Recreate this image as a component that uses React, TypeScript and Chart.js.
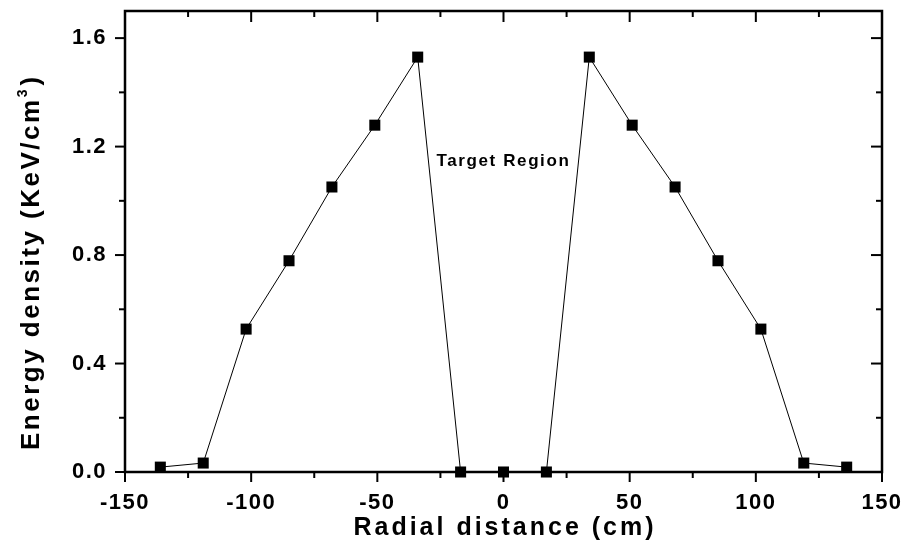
import React, { useEffect, useRef } from 'react';
import { Chart, registerables } from 'chart.js';

Chart.register(...registerables);

// ---- data ----
const radialDistance = [-136, -119, -102, -85, -68, -51, -34, -17, 0, 17, 34, 51, 68, 85, 102, 119, 136];
const energyDensity = [0.018, 0.033, 0.527, 0.779, 1.051, 1.279, 1.53, 0, 0, 0, 1.53, 1.279, 1.051, 0.779, 0.527, 0.033, 0.018];

const xMajorTicks = [-150, -100, -50, 0, 50, 100, 150];
const xMinorTicks = [-125, -75, -25, 25, 75, 125];
const yMajorTicks = [0, 0.4, 0.8, 1.2, 1.6];
const yMinorTicks = [0.2, 0.6, 1.0, 1.4];

const xAxisTitle = 'Radial distance (cm)';
const yAxisTitleMain = 'Energy density (KeV/cm';
const yAxisTitleSup = '3';
const yAxisTitleEnd = ')';
const annotationText = 'Target Region';
const annotationX = 0;
const annotationY = 1.128;

const FONT = '"Liberation Sans", Arial, Helvetica, sans-serif';

const framePlugin = {
  id: 'originFrame',
  beforeDraw(chart: any) {
    chart.ctx.letterSpacing = '1.5px';
  },
  beforeDatasetsDraw(chart: any) {
    const { ctx, chartArea: a, scales } = chart;
    const xs = scales.x;
    const ys = scales.y;
    ctx.save();
    ctx.strokeStyle = '#000';
    ctx.lineCap = 'butt';
    const seg = (x1: number, y1: number, x2: number, y2: number) => {
      ctx.beginPath();
      ctx.moveTo(x1, y1);
      ctx.lineTo(x2, y2);
      ctx.stroke();
    };
    ctx.lineWidth = 2;
    xMajorTicks.forEach((v) => {
      const p = xs.getPixelForValue(v);
      seg(p, a.bottom, p, a.bottom + 10);
      seg(p, a.top, p, a.top + 11);
    });
    xMinorTicks.forEach((v) => {
      const p = xs.getPixelForValue(v);
      seg(p, a.bottom, p, a.bottom + 6);
      seg(p, a.top, p, a.top + 6);
    });
    yMajorTicks.forEach((v) => {
      const p = ys.getPixelForValue(v);
      seg(a.left - 10, p, a.left, p);
      seg(a.right - 11, p, a.right, p);
    });
    yMinorTicks.forEach((v) => {
      const p = ys.getPixelForValue(v);
      seg(a.left - 6, p, a.left, p);
      seg(a.right - 6, p, a.right, p);
    });
    ctx.lineWidth = 2.5;
    ctx.strokeRect(a.left, a.top, a.right - a.left, a.bottom - a.top);

    // axis titles
    ctx.fillStyle = '#000';
    ctx.textBaseline = 'alphabetic';
    ctx.font = `bold 25px ${FONT}`;
    ctx.letterSpacing = '3px';
    ctx.textAlign = 'center';
    ctx.fillText(xAxisTitle, (a.left + a.right) / 2 + 1.5, a.bottom + 63);

    ctx.save();
    ctx.translate(a.left - 86, a.bottom - 22);
    ctx.rotate(-Math.PI / 2);
    ctx.textAlign = 'left';
    ctx.font = `bold 26px ${FONT}`;
    ctx.letterSpacing = '2.5px';
    ctx.fillText(yAxisTitleMain, 0, 0);
    const w1 = ctx.measureText(yAxisTitleMain).width;
    ctx.font = `bold 14px ${FONT}`;
    ctx.letterSpacing = '0px';
    ctx.fillText(yAxisTitleSup, w1, -12);
    const w2 = ctx.measureText(yAxisTitleSup).width;
    ctx.font = `bold 26px ${FONT}`;
    ctx.fillText(yAxisTitleEnd, w1 + w2 + 4, 0);
    ctx.restore();

    ctx.restore();
  },
  afterDatasetsDraw(chart: any) {
    const { ctx, scales } = chart;
    ctx.save();
    ctx.fillStyle = '#000';
    ctx.font = `bold 17px ${FONT}`;
    ctx.letterSpacing = '1.6px';
    ctx.textAlign = 'center';
    ctx.textBaseline = 'alphabetic';
    ctx.fillText(annotationText, scales.x.getPixelForValue(annotationX), scales.y.getPixelForValue(annotationY));
    ctx.restore();
  },
};

export default function App() {
  const ref = useRef<HTMLCanvasElement | null>(null);

  useEffect(() => {
    if (!ref.current) return;
    const chart = new Chart(ref.current, {
      type: 'line',
      data: {
        datasets: [
          {
            data: radialDistance.map((x, i) => ({ x, y: energyDensity[i] })),
            borderColor: '#000',
            borderWidth: 1,
            backgroundColor: '#000',
            pointStyle: 'rect',
            pointRadius: 7.8,
            pointBorderWidth: 0,
            pointBackgroundColor: '#000',
            tension: 0,
            clip: false as any,
          },
        ],
      },
      options: {
        animation: false,
        responsive: false,
        devicePixelRatio: 1,
        layout: { padding: { left: 0, top: 11, right: 24, bottom: 0 } },
        plugins: { legend: { display: false }, tooltip: { enabled: false }, title: { display: false } },
        scales: {
          x: {
            type: 'linear',
            min: -150,
            max: 150,
            grid: { display: false, drawTicks: false },
            border: { display: false },
            afterBuildTicks: (s: any) => {
              s.ticks = xMajorTicks.map((v) => ({ value: v }));
            },
            afterFit: (s: any) => {
              s.height = 75;
              s.paddingLeft = 0;
              s.paddingRight = 0;
            },
            ticks: {
              autoSkip: false,
              maxRotation: 0,
              padding: 18,
              color: '#000',
              font: { family: FONT, size: 22, weight: 'bold' },
              callback: (v: any) => String(v),
            },
          },
          y: {
            type: 'linear',
            min: 0,
            max: 1.7,
            grid: { display: false, drawTicks: false },
            border: { display: false },
            afterBuildTicks: (s: any) => {
              s.ticks = yMajorTicks.map((v) => ({ value: v }));
            },
            afterFit: (s: any) => {
              s.width = 125;
              s.paddingTop = 0;
              s.paddingBottom = 0;
            },
            ticks: {
              autoSkip: false,
              padding: 18,
              color: '#000',
              font: { family: FONT, size: 22, weight: 'bold' },
              callback: (v: any) => Number(v).toFixed(1),
            },
          },
        },
      },
      plugins: [framePlugin],
    });
    return () => chart.destroy();
  }, []);

  return (
    <div style={{ position: 'absolute', left: 0, top: 0, width: 906, height: 547, background: '#fff' }}>
      <canvas ref={ref} width={906} height={547} style={{ width: 906, height: 547, display: 'block' }} />
    </div>
  );
}
